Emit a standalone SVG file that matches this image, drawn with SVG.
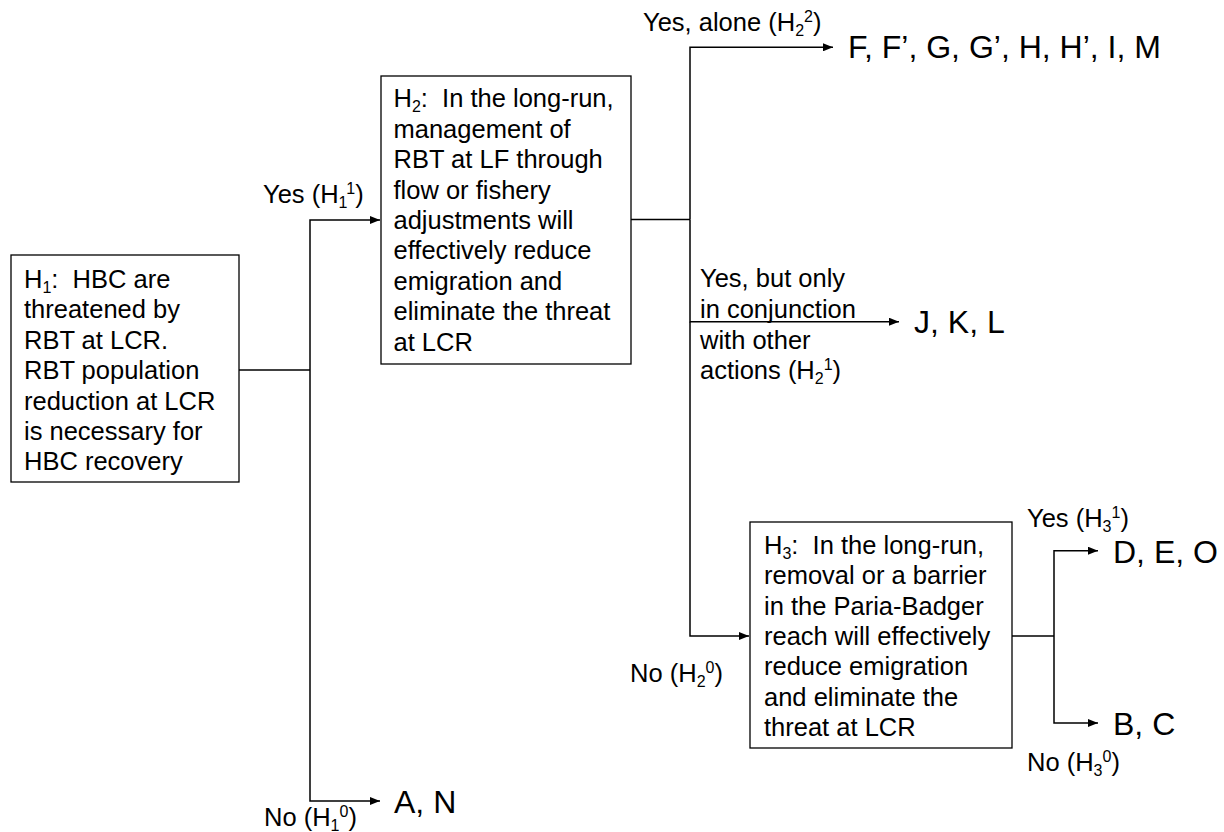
<svg xmlns="http://www.w3.org/2000/svg" width="1224" height="832" viewBox="0 0 1224 832">
<style>
.box{fill:#fff;stroke:#000;stroke-width:1.3}
.t{font-family:"Liberation Sans",Arial,sans-serif;font-size:25.5px;fill:#000}
.big{font-family:"Liberation Sans",Arial,sans-serif;font-size:32px;fill:#000}
.s{font-size:16px}
.conn{fill:none;stroke:#000;stroke-width:1.5}
</style>
<defs>
<marker id="ah" markerWidth="10" markerHeight="8" refX="10" refY="4" orient="auto" markerUnits="userSpaceOnUse"><path d="M0,0L10,4L0,8z" fill="#000"/></marker>
</defs>
<rect width="1224" height="832" fill="#fff"/>
<g id="connectors">
<path class="conn" d="M239,370H310"/>
<path class="conn" d="M310,370V220H380" marker-end="url(#ah)"/>
<path class="conn" d="M310,370V801H380" marker-end="url(#ah)"/>
<path class="conn" d="M631,219.5H690"/>
<path class="conn" d="M690,219.5V47.3H833" marker-end="url(#ah)"/>
<path class="conn" d="M690,219.5V321.7H899" marker-end="url(#ah)"/>
<path class="conn" d="M690,321.7V636H749" marker-end="url(#ah)"/>
<path class="conn" d="M1012,636H1054"/>
<path class="conn" d="M1054,636V550.7H1098" marker-end="url(#ah)"/>
<path class="conn" d="M1054,636V723H1098" marker-end="url(#ah)"/>
</g>
<g id="labels">
<text class="t" x="263" y="203">Yes (H<tspan class="s" dy="5">1</tspan><tspan class="s" dy="-14">1</tspan><tspan dy="9">)</tspan></text>
<text class="t" x="264" y="826">No (H<tspan class="s" dy="5">1</tspan><tspan class="s" dy="-14">0</tspan><tspan dy="9">)</tspan></text>
<text class="t" x="643" y="31">Yes, alone (H<tspan class="s" dy="5">2</tspan><tspan class="s" dy="-14">2</tspan><tspan dy="9">)</tspan></text>
<text class="t" x="700" y="287">Yes, but only</text>
<text class="t" x="700" y="318">in conjunction</text>
<text class="t" x="700" y="348.5">with other</text>
<text class="t" x="700" y="378.5">actions (H<tspan class="s" dy="5">2</tspan><tspan class="s" dy="-14">1</tspan><tspan dy="9">)</tspan></text>
<text class="t" x="723" y="681.7" text-anchor="end">No (H<tspan class="s" dy="5">2</tspan><tspan class="s" dy="-14">0</tspan><tspan dy="9">)</tspan></text>
<text class="t" x="1027" y="527">Yes (H<tspan class="s" dy="5">3</tspan><tspan class="s" dy="-14">1</tspan><tspan dy="9">)</tspan></text>
<text class="t" x="1027" y="771">No (H<tspan class="s" dy="5">3</tspan><tspan class="s" dy="-14">0</tspan><tspan dy="9">)</tspan></text>
</g>
<g id="H1">
<rect class="box" x="11" y="255" width="228" height="227"/>
<text class="t" x="24" y="288">H<tspan class="s" dy="5">1</tspan><tspan dy="-5">:&#160; HBC are</tspan></text>
<text class="t" x="24" y="318.4">threatened by</text>
<text class="t" x="24" y="348.8">RBT at LCR.</text>
<text class="t" x="24" y="379.2">RBT population</text>
<text class="t" x="24" y="409.6">reduction at LCR</text>
<text class="t" x="24" y="440">is necessary for</text>
<text class="t" x="24" y="470.4">HBC recovery</text>
</g>
<g id="H2">
<rect class="box" x="381" y="76" width="250" height="288"/>
<text class="t" x="393.5" y="107.3">H<tspan class="s" dy="5">2</tspan><tspan dy="-5">:&#160; In the long-run,</tspan></text>
<text class="t" x="393.5" y="137.7">management of</text>
<text class="t" x="393.5" y="168.1">RBT at LF through</text>
<text class="t" x="393.5" y="198.5">flow or fishery</text>
<text class="t" x="393.5" y="228.9">adjustments will</text>
<text class="t" x="393.5" y="259.3">effectively reduce</text>
<text class="t" x="393.5" y="289.7">emigration and</text>
<text class="t" x="393.5" y="320.1">eliminate the threat</text>
<text class="t" x="393.5" y="350.5">at LCR</text>
</g>
<g id="H3">
<rect class="box" x="750" y="522" width="262" height="226"/>
<text class="t" x="764" y="554">H<tspan class="s" dy="5">3</tspan><tspan dy="-5">:&#160; In the long-run,</tspan></text>
<text class="t" x="764" y="584.3">removal or a barrier</text>
<text class="t" x="764" y="614.6">in the Paria-Badger</text>
<text class="t" x="764" y="644.9">reach will effectively</text>
<text class="t" x="764" y="675.2">reduce emigration</text>
<text class="t" x="764" y="705.5">and eliminate the</text>
<text class="t" x="764" y="735.8">threat at LCR</text>
</g>
<g id="outcome-FGHIM"><text class="big" x="848" y="58.3">F, F’, G, G’, H, H’, I, M</text></g>
<g id="outcome-JKL"><text class="big" x="914" y="333.3">J, K, L</text></g>
<g id="outcome-DEO"><text class="big" x="1113" y="562.7">D, E, O</text></g>
<g id="outcome-BC"><text class="big" x="1113" y="735">B, C</text></g>
<g id="outcome-AN"><text class="big" x="394" y="812.7">A, N</text></g>
</svg>
